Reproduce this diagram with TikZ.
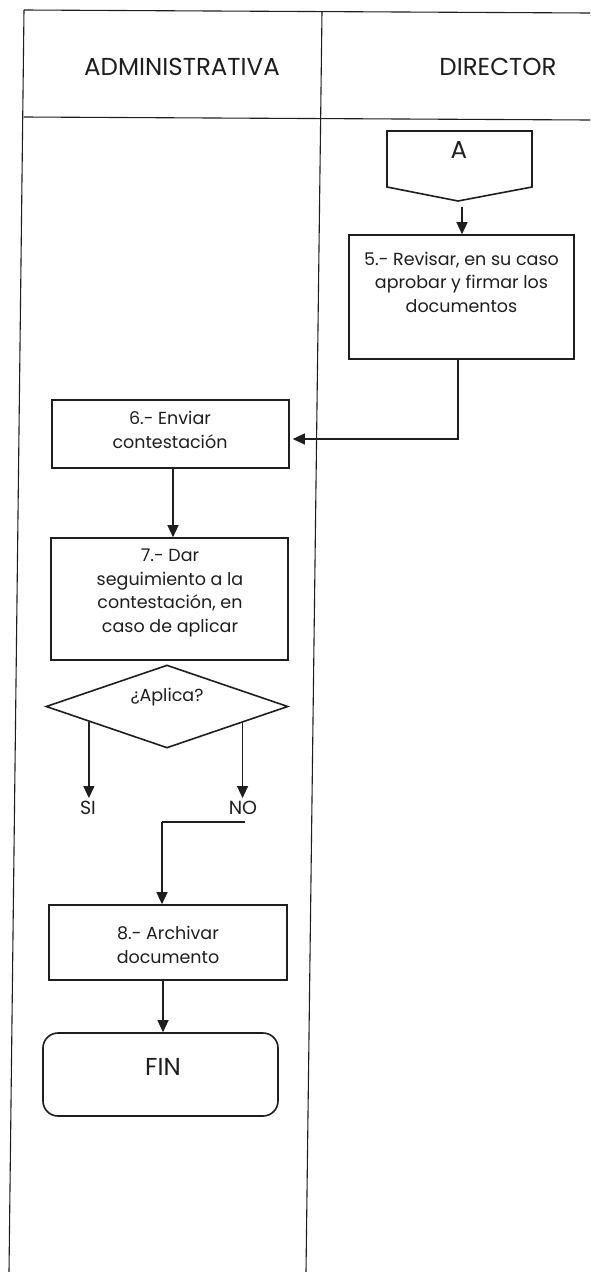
\documentclass[tikz,border=0pt]{standalone}
\usepackage{fontspec}
\setmainfont{Poppins}
\usetikzlibrary{arrows.meta,shapes.geometric,calc}
\definecolor{ink}{HTML}{1E1E1E}
\begin{document}
\begin{tikzpicture}[x=1pt,y=-1pt,
  lane/.style={line width=1.1pt, draw=ink},
  boxst/.style={draw=ink, line width=1.6pt, rectangle, inner sep=0pt},
  txt/.style={align=center, text=ink, font=\fontsize{17.5}{23.5}\selectfont, inner sep=0pt},
  hdr/.style={text=ink, font=\fontsize{24.5}{28}\selectfont, inner sep=0pt},
  lbl/.style={text=ink, font=\fontsize{19}{22}\selectfont, inner sep=0pt},
  arr/.style={draw=ink, line width=1.2pt, -{Triangle[length=12pt,width=11pt]}},
  conn/.style={draw=ink, line width=1.2pt}]
\useasboundingbox[fill=white] (0,0) rectangle (590,1272);

% swimlane frame
\coordinate (tl) at (24,10);
\coordinate (tr) at (590,13);
\coordinate (sl) at (24,117);
\coordinate (sr) at (590,120);
\coordinate (bl) at (9,1272);
\coordinate (dt) at (322,12);
\coordinate (db) at (306,1272);
\draw[lane] (tl) -- (tr);
\draw[lane] (sl) -- (sr);
\draw[lane] (tl) -- (bl);
\draw[lane] (dt) -- (db);

\node[hdr] (h1) at (182,67) {ADMINISTRATIVA};
\node[hdr] (h2) at (498,67) {DIRECTOR};

% off-page connector A
\draw[draw=ink, line width=1.6pt] (387,131) -- (532,131) -- (532,187) -- (458,201) -- (387,187) -- cycle;
\node[hdr] (A) at (459,150) {A};
\coordinate (Abot) at (462,207);

% step 5
\node[boxst, minimum width=225pt, minimum height=124pt] (b5) at (461.5,297) {};
\node[txt] (t5) at (461.5,282) {5.- Revisar, en su caso\\aprobar y firmar los\\documentos};
\draw[arr] (Abot) -- (Abot |- b5.north);

% step 6
\node[boxst, minimum width=237pt, minimum height=68pt] (b6) at (170.5,434) {};
\node[txt] (t6) at (170,430) {6.- Enviar\\contestación};
\draw[arr, shorten >=3pt] ([xshift=-3.5pt]b5.south) |- ([yshift=-5pt]b6.east);

% step 7
\node[boxst, minimum width=237pt, minimum height=122pt] (b7) at (169.5,599) {};
\node[txt] (t7) at (170,593) {7.- Dar\\seguimiento a la\\contestación, en\\caso de aplicar};
\draw[arr] ([xshift=2.5pt]b6.south) -- ([xshift=2.5pt]b6.south |- b7.north);

% decision
\node[diamond, draw=ink, line width=1.6pt, minimum width=242pt, minimum height=83pt, inner sep=0pt] (d) at (167,706.5) {};
\node[txt] (tq) at (167,697) {¿Aplica?};
\node[lbl] (SI) at (88,808) {SI};
\node[lbl] (NO) at (243,808) {NO};
\draw[arr, shorten >=3pt] (d.191) -- (d.191 |- SI.north);
\draw[arr, shorten >=3pt] (d.348) -- (d.348 |- NO.north);

% step 8
\node[boxst, minimum width=238pt, minimum height=75pt] (b8) at (168,942.5) {};
\node[txt] (t8) at (168,945) {8.- Archivar\\documento};
\coordinate (n1) at (245,822);
\coordinate (n2) at (162,822);
\draw[conn] (n1) -- (n2);
\draw[arr] (n2) -- (n2 |- b8.north);

% end
\node[boxst, rounded corners=15pt, minimum width=235pt, minimum height=83pt] (fin) at (160.5,1074.5) {};
\node[hdr] (tfin) at (163,1067) {FIN};
\draw[arr] (tfin |- b8.south) -- (tfin |- fin.north);
\end{tikzpicture}
\end{document}
